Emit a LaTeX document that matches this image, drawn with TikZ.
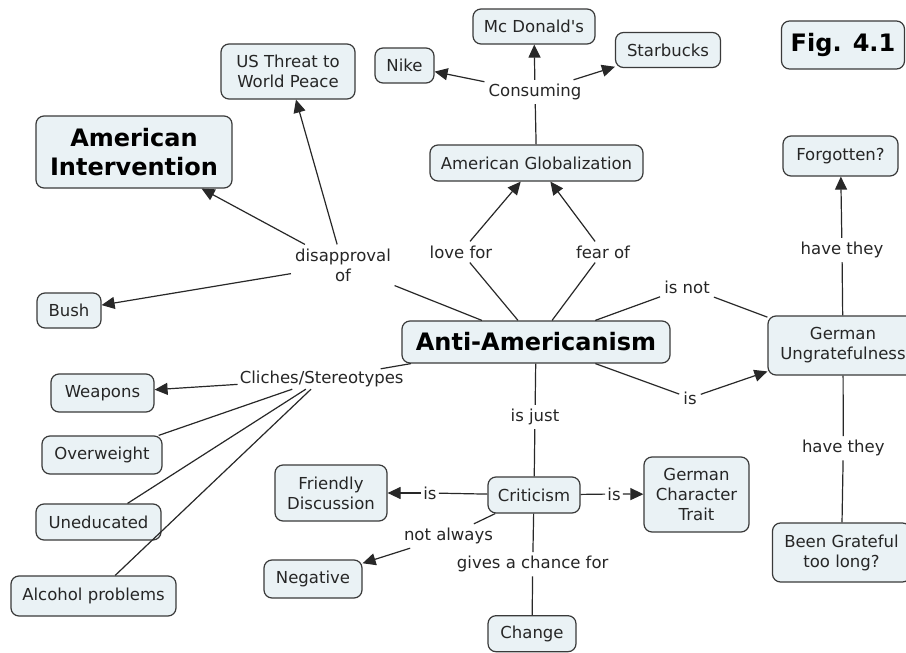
\documentclass[tikz,border=0pt]{standalone}
\usepackage{fontspec}
\setmainfont{DejaVu Sans}
\usetikzlibrary{arrows.meta}
\definecolor{conceptfill}{RGB}{234,242,245}
\definecolor{conceptline}{RGB}{58,58,58}
\definecolor{linkline}{RGB}{40,40,40}
\newcommand{\mapfont}{\fontsize{16.5}{20}\selectfont}
\newcommand{\bigmapfont}{\fontsize{24}{29}\selectfont\bfseries}
\tikzset{
  concept/.style={draw=conceptline, fill=conceptfill, rounded corners=8pt, line width=1.2pt,
    align=center, inner xsep=9pt, inner ysep=5pt, minimum height=35pt, font=\mapfont, text=black!85},
  bigconcept/.style={concept, font=\bigmapfont, text=black},
  linkword/.style={align=center, inner sep=4pt, font=\mapfont, text=black!85},
  con/.style={draw=linkline, line width=1.2pt},
  arr/.style={con, -{Triangle[length=13pt,width=12pt]}}
}
\begin{document}
\begin{tikzpicture}[x=1pt,y=-1pt]
  \useasboundingbox[fill=white] (0,0) rectangle (906,653);
  \node[concept, minimum width=134pt, minimum height=55pt] (threat) at (288,71.5) {US Threat to\\World Peace};
  \node[concept, minimum width=59pt] (nike) at (404.5,65.5) {Nike};
  \node[bigconcept, minimum width=196pt, minimum height=72pt] (interv) at (134,152) {American\\Intervention};
  \node[concept, minimum width=64pt] (bush) at (69,310.5) {Bush};
  \node[linkword] (disappr) at (343,265) {disapproval\\of};
  \node[concept, minimum width=122pt] (mcd) at (534,26.5) {Mc Donald\textquotesingle s};
  \node[concept, minimum width=105pt] (starb) at (668,50) {Starbucks};
  \node[bigconcept, minimum width=123pt, minimum height=48pt] (fig) at (843,45) {Fig. 4.1};
  \node[linkword] (consum) at (535,92) {Consuming};
  \node[concept, minimum width=213pt, minimum height=36pt] (glob) at (536.5,163) {American Globalization};
  \node[concept, minimum width=115pt, minimum height=40pt] (forgot) at (840.5,156) {Forgotten?};
  \node[linkword] (havetop) at (842,250) {have they};
  \node[linkword] (lovefor) at (461,252) {love for};
  \node[linkword] (fearof) at (603,252) {fear of};
  \node[linkword] (isnot) at (687,287) {is not};
  \node[bigconcept, minimum width=268pt, minimum height=42pt] (anti) at (536,342) {Anti-Americanism};
  \node[linkword, inner sep=2pt] (cliche) at (321.7,379) {Cliches/Stereotypes};
  \node[concept, minimum width=103pt, minimum height=38pt] (weap) at (102.5,393) {Weapons};
  \node[concept, minimum width=120pt, minimum height=38pt] (overw) at (102,455) {Overweight};
  \node[concept, minimum width=125pt, minimum height=36pt] (unedu) at (98.5,522) {Uneducated};
  \node[concept, minimum width=165pt, minimum height=40pt] (alcoh) at (93.5,596) {Alcohol problems};
  \node[concept, minimum width=112pt, minimum height=56pt] (friend) at (331,493) {Friendly\\Discussion};
  \node[concept, minimum width=98pt, minimum height=38pt] (negat) at (313,579) {Negative};
  \node[linkword, inner sep=2pt] (isfriend) at (430,493) {is};
  \node[linkword] (notalw) at (448.5,536) {not always};
  \node[concept, minimum width=150pt, minimum height=59pt] (ungrat) at (843,345.5) {German\\Ungratefulness};
  \node[linkword] (isungr) at (690,398) {is};
  \node[linkword] (isjust) at (535,417) {is just};
  \node[concept, minimum width=92pt, minimum height=36pt] (critic) at (534,495) {Criticism};
  \node[linkword, inner sep=2pt] (istrait) at (614,494) {is};
  \node[concept, minimum width=105pt, minimum height=75pt] (trait) at (696.5,494.5) {German\\Character\\Trait};
  \node[linkword] (havebot) at (843.3,448.3) {have they};
  \node[concept, minimum width=138pt, minimum height=59pt] (grate) at (841.5,552.5) {Been Grateful\\too long?};
  \node[linkword] (chance) at (532.7,564.3) {gives a chance for};
  \node[concept, minimum width=88pt, minimum height=36pt] (change) at (532,633.7) {Change};
  \draw[con] (anti) -- (disappr);
  \draw[arr] (disappr) -- (interv);
  \draw[arr] (disappr) -- (threat);
  \draw[arr] (disappr) -- (bush);
  \draw[con] (glob) -- (consum);
  \draw[arr] (consum) -- (nike);
  \draw[arr] (consum) -- (mcd);
  \draw[arr] (consum) -- (starb);
  \draw[con] (anti) -- (lovefor);
  \draw[arr] (lovefor) -- (glob);
  \draw[con] (anti) -- (fearof);
  \draw[arr] (fearof) -- (glob);
  \draw[con] (anti) -- (isnot);
  \draw[con] (isnot) -- (ungrat);
  \draw[con] (ungrat) -- (havetop);
  \draw[arr] (havetop) -- (forgot);
  \draw[con] (anti) -- (cliche);
  \draw[arr] (cliche) -- (weap);
  \draw[con] (cliche) -- (overw);
  \draw[con] (cliche) -- (unedu);
  \draw[con] (cliche) -- (alcoh);
  \draw[con] (anti) -- (isungr);
  \draw[arr] (isungr) -- (ungrat);
  \draw[con] (anti) -- (isjust);
  \draw[con] (isjust) -- (critic);
  \draw[con] (critic) -- (isfriend);
  \draw[arr] (isfriend) -- (friend);
  \draw[con] (critic) -- (istrait);
  \draw[arr] (istrait) -- (trait);
  \draw[con] (critic) -- (notalw);
  \draw[arr] (notalw) -- (negat);
  \draw[con] (critic) -- (chance);
  \draw[con] (chance) -- (change);
  \draw[con] (ungrat) -- (havebot);
  \draw[con] (havebot) -- (grate);
\end{tikzpicture}
\end{document}
